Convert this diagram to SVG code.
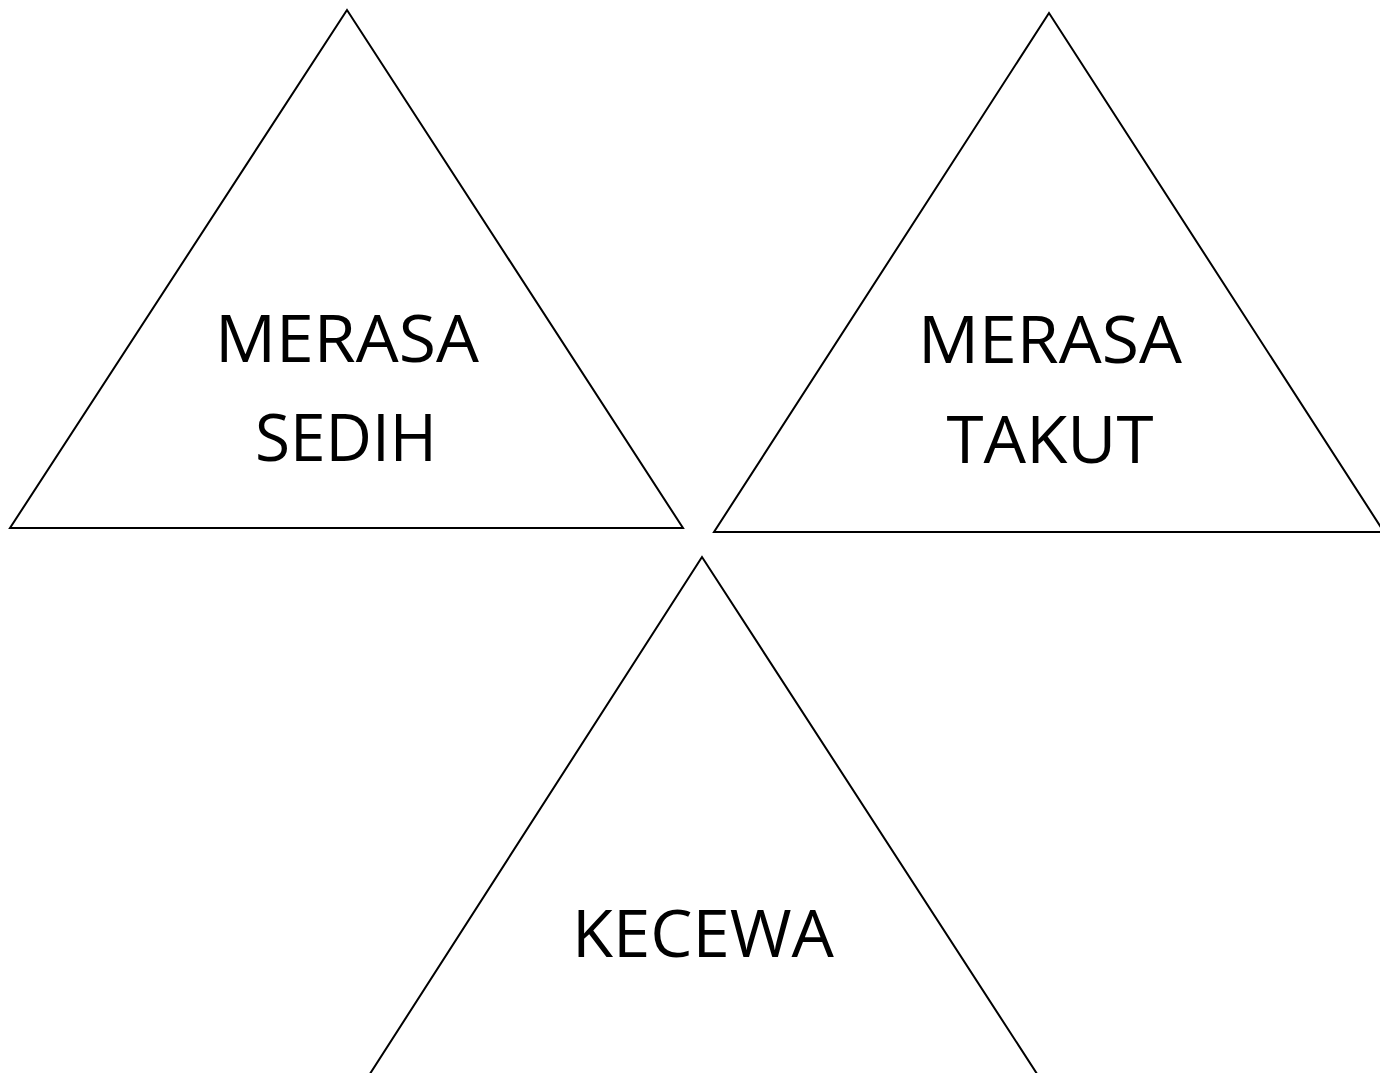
<svg xmlns="http://www.w3.org/2000/svg" width="1380" height="1073" viewBox="0 0 1380 1073">
  <style>
    .tri { fill: #ffffff; stroke: #000000; stroke-width: 2; stroke-linejoin: miter; }
    .lbl { font-family: "Open Sans", "Liberation Sans", sans-serif; font-size: 66px; fill: #000000; text-anchor: middle; }
  </style>
  <rect x="0" y="0" width="1380" height="1073" fill="#ffffff"/>
  <g id="node-sedih">
    <polygon class="tri" points="347,10 10,528 683,528"/>
    <text class="lbl" x="347" y="362" textLength="264" lengthAdjust="spacingAndGlyphs">MERASA</text>
    <text class="lbl" x="346" y="461" textLength="182" lengthAdjust="spacingAndGlyphs">SEDIH</text>
  </g>
  <g id="node-takut">
    <polygon class="tri" points="1049,13 714,532 1384,532"/>
    <text class="lbl" x="1050" y="363" textLength="264" lengthAdjust="spacingAndGlyphs">MERASA</text>
    <text class="lbl" x="1050" y="463" textLength="207" lengthAdjust="spacingAndGlyphs">TAKUT</text>
  </g>
  <g id="node-kecewa">
    <polygon class="tri" points="702,557 366,1080 1041,1080"/>
    <text class="lbl" x="703" y="957" textLength="262" lengthAdjust="spacingAndGlyphs">KECEWA</text>
  </g>
  <g id="connectors"/>
</svg>
